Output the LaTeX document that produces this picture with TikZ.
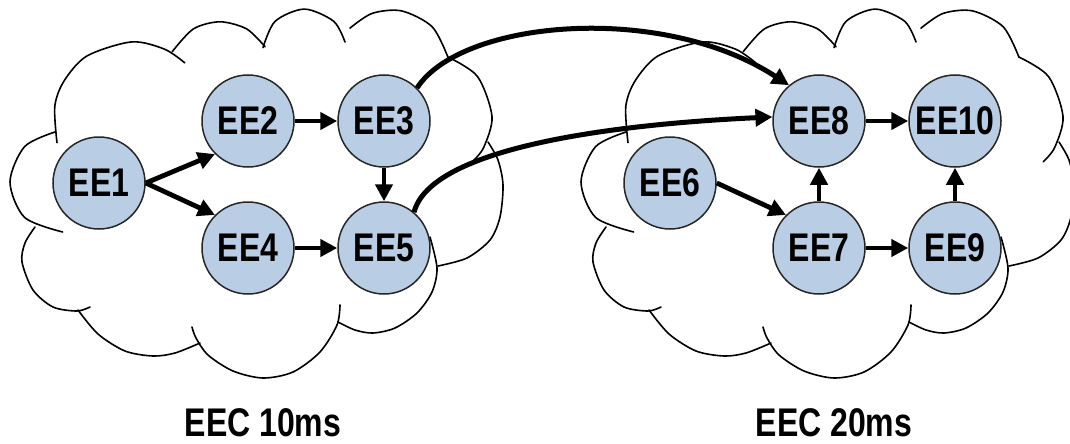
\documentclass[tikz,border=0pt]{standalone}
\usepackage{fontspec}
\setmainfont{Liberation Sans}[FakeStretch=0.8]
\usetikzlibrary{arrows.meta}
\definecolor{eeBlue}{HTML}{B9CDE5}

\begin{document}
\begin{tikzpicture}
[x=1pt,y=-1pt,
  nodeDecorate/.style={shape=circle,minimum size=92pt,inner sep=0pt,draw=black!85,line width=1.5pt,fill=eeBlue,font=\fontsize{40}{40}\selectfont\bfseries},
  lineDecorate/.style={line width=4.8pt,-{Triangle[length=17pt,width=17pt]}},
  curveDecorate/.style={line width=5pt,-{Triangle[length=17pt,width=17pt]}},
  cloudDecorate/.style={line width=1.6pt,line cap=round},
  labelDecorate/.style={font=\fontsize{40}{40}\selectfont\bfseries}]
\useasboundingbox (0,0) rectangle (1070,444);
\clip (0,0) rectangle (1070,444);
%% clouds
\foreach \cloudshift in {0,571}
{
  \begin{scope}[xshift=\cloudshift pt]
  \draw[cloudDecorate] plot[smooth] coordinates {(55,132) (24.6,146.6) (10,182) (24.6,217.4) (62.6,232)};
  \draw[cloudDecorate] plot[smooth] coordinates {(57,142.7) (54.8,106.3) (64.1,80.9) (86.9,56) (131.6,41.9) (164.6,49.2) (184.8,62.9)};
  \draw[cloudDecorate] plot[smooth] coordinates {(172.2,51.7) (193.4,28.9) (220,21.8) (246.6,28.9) (265.1,46.8)};
  \draw[cloudDecorate] plot[smooth] coordinates {(263,47.7) (275.1,21.3) (304.4,9.1) (333.7,21.3) (345,42)};
  \draw[cloudDecorate] plot[smooth] coordinates {(349.9,28.2) (372.1,13.4) (401.6,10.9) (432.2,26.8) (448,57.3)};
  \draw[cloudDecorate] plot[smooth] coordinates {(448.1,57.1) (477.5,76.5) (492,116.4) (483.7,147.4) (472.3,161.7)};
  \draw[cloudDecorate] plot[smooth] coordinates {(488,142) (498,160) (503,185) (500,217) (490,240) (467,258) (438,266)};
  \draw[cloudDecorate] plot[smooth] coordinates {(430,237) (437,268) (432,292) (417,313) (395,328) (373,333) (355,330) (338,322)};
  \draw[cloudDecorate] plot[smooth] coordinates {(340,305) (337,325) (320,352) (293,372) (263,378) (233,371) (208,355) (196,338) (192,327)};
  \draw[cloudDecorate] plot[smooth] coordinates {(200,343) (175,353) (153,356) (125,351) (98,334) (78,310)};
  \draw[cloudDecorate] plot[smooth] coordinates {(90,307) (77,311) (53,307) (33,290) (22,262) (25,243) (35,227)};
  \end{scope}
}
%% nodes or vertices
\foreach \nodename/\x/\y in {EE1/99/183, EE2/248/121, EE3/384/121, EE4/248/248, EE5/384/248,
  EE6/670/183, EE8/819/121, EE10/955/121, EE7/819/248, EE9/955/248}
{
  \node (\nodename) at (\x,\y) [nodeDecorate] {\nodename};
}
\node (label10) at (263,423) [labelDecorate] {EEC 10ms};
\node (label20) at (834,423) [labelDecorate] {EEC 20ms};
%% edges or lines
\path
\foreach \startnode/\endnode in {EE1.east/EE2.225, EE1.east/EE4.135, EE2/EE3, EE4/EE5, EE3/EE5,
  EE6.east/EE7.135, EE7/EE8, EE7/EE9, EE8/EE10, EE9/EE10}
{
  (\startnode) edge[lineDecorate] (\endnode)
};
\draw[curveDecorate] (EE3.45) .. controls (461,20) and (661,2) .. (EE8.130);
\draw[curveDecorate] (EE5.50) .. controls (430,150) and (600,125) .. (EE8.175);
\end{tikzpicture}
\end{document}
